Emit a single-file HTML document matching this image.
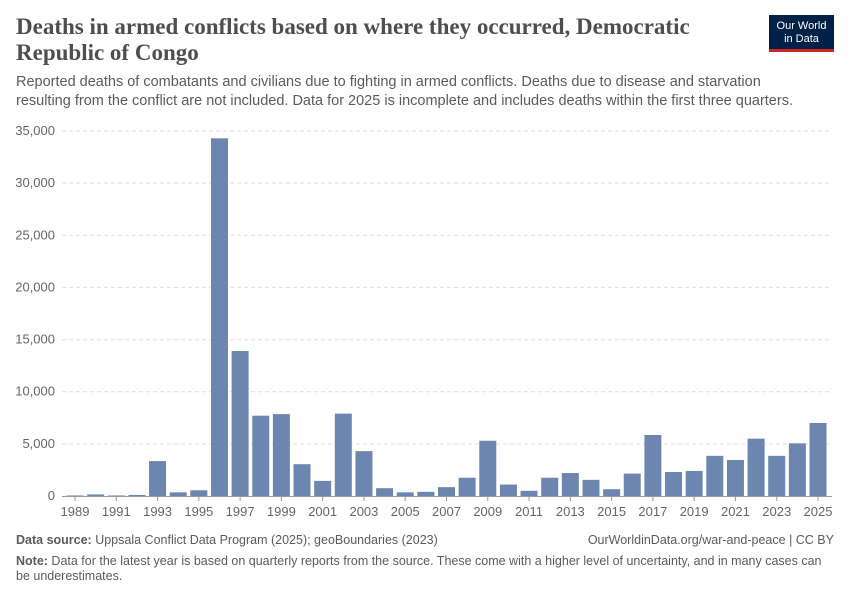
<!DOCTYPE html>
<html><head><meta charset="utf-8"><style>
body{margin:0;background:#fff;width:850px;height:600px;overflow:hidden;font-family:"Liberation Sans",sans-serif;position:relative}
.t{position:absolute;margin:0}
</style></head><body>
<h1 class="t" style="left:16px;top:14px;width:720px;font-family:'Liberation Serif',serif;font-size:23px;line-height:26px;color:#4e4e4e;font-weight:bold">Deaths in armed conflicts based on where they occurred, Democratic Republic of Congo</h1>
<div class="t" style="left:769px;top:15px;width:65px;height:37px;background:#002147;border-bottom:3px solid #ce261e;box-sizing:border-box;color:#fff;font-size:11px;line-height:13px;text-align:center;padding-top:5px">Our World<br>in Data</div>
<p class="t" style="left:16px;top:73px;width:790px;font-size:14.5px;line-height:19px;color:#5b5b5b">Reported deaths of combatants and civilians due to fighting in armed conflicts. Deaths due to disease and starvation resulting from the conflict are not included. Data for 2025 is incomplete and includes deaths within the first three quarters.</p>
<svg id="c" width="850" height="600" style="position:absolute;left:0;top:0"></svg>
<p class="t" style="left:16px;top:533px;font-size:12.5px;color:#5b5b5b"><b>Data source:</b> Uppsala Conflict Data Program (2025); geoBoundaries (2023)</p>
<p class="t" style="right:16px;top:533px;font-size:12.5px;color:#5b5b5b">OurWorldinData.org/war-and-peace | CC BY</p>
<p class="t" style="left:16px;top:554px;width:810px;font-size:12.5px;line-height:15px;color:#5b5b5b"><b>Note:</b> Data for the latest year is based on quarterly reports from the source. These come with a higher level of uncertainty, and in many cases can be underestimates.</p>
<script>
const years=[1989,1990,1991,1992,1993,1994,1995,1996,1997,1998,1999,2000,2001,2002,2003,2004,2005,2006,2007,2008,2009,2010,2011,2012,2013,2014,2015,2016,2017,2018,2019,2020,2021,2022,2023,2024,2025];
const deaths=[50,150,50,100,3350,350,550,34300,13900,7700,7850,3050,1450,7900,4300,750,350,400,850,1750,5300,1100,500,1750,2200,1550,650,2150,5850,2300,2400,3850,3450,5500,3850,5050,7000];
const yTicks=[0,5000,10000,15000,20000,25000,30000,35000];
const xLabels=[1989,1991,1993,1995,1997,1999,2001,2003,2005,2007,2009,2011,2013,2015,2017,2019,2021,2023,2025];
const svg=document.getElementById('c'),NS='http://www.w3.org/2000/svg';
const y0=496,y1=131,ymax=35000,x0=75,x1=818;
const ys=v=>y0-(v/ymax)*(y0-y1);
const xs=yr=>x0+(yr-years[0])*(x1-x0)/(years[years.length-1]-years[0]);
function mk(t,a){const e=document.createElementNS(NS,t);for(const k in a)e.setAttribute(k,a[k]);svg.appendChild(e);return e;}
yTicks.forEach(v=>{
 if(v>0){const l=mk('line',{x1:62,x2:832,y1:ys(v),y2:ys(v),stroke:'#ddd','stroke-dasharray':'4,3'});
 
 }
 const t=mk('text',{x:55,y:ys(v)+4,'text-anchor':'end','font-size':13,fill:'#666','font-family':'Liberation Sans,sans-serif'});
 t.textContent=v.toLocaleString('en-US');
 
 
});
years.forEach((yr,i)=>{
 const r=mk('rect',{x:xs(yr)-8.5,y:ys(deaths[i]),width:17,height:y0-ys(deaths[i]),fill:'#6d86b0'});
 
 
});
const ax=mk('line',{x1:62,x2:832,y1:y0+0.5,y2:y0+0.5,stroke:'#999'});


xLabels.forEach(yr=>{
 const tk=mk('line',{x1:xs(yr),x2:xs(yr),y1:y0,y2:y0+5,stroke:'#999'});
 
 
 const t=mk('text',{x:xs(yr),y:516,'text-anchor':'middle','font-size':13,fill:'#666','font-family':'Liberation Sans,sans-serif'});
 t.textContent=yr;
 
 
});
</script>
</body></html>
